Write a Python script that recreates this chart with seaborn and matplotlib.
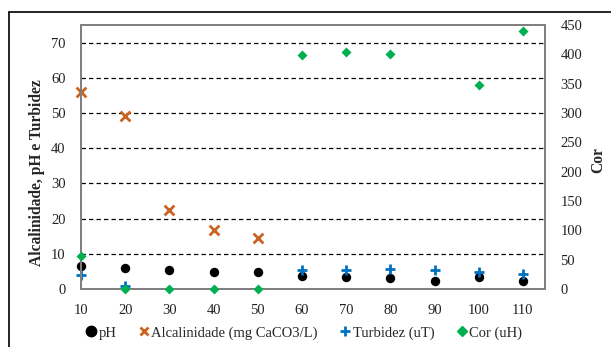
import numpy as np
import pandas as pd
import matplotlib
matplotlib.use("Agg")
import matplotlib.pyplot as plt
from matplotlib.lines import Line2D
import seaborn as sns

# data
categories = ["10", "20", "30", "40", "50", "60", "70", "80", "90", "100", "110"]
ph = [6.4, 6.0, 5.3, 4.8, 4.8, 3.6, 3.3, 3.1, 2.2, 3.3, 2.2]
alcalinidade = [56.0, 49.1, 22.5, 16.8, 14.6, np.nan, np.nan, np.nan, np.nan, np.nan, np.nan]
turbidez = [4.1, 0.9, np.nan, np.nan, np.nan, 5.5, 5.3, 5.7, 5.3, 4.7, 4.4]
cor = [57, 0, 0, 0, 0, 399, 404, 401, np.nan, 348, 439]

left_ticks = [0, 10, 20, 30, 40, 50, 60, 70]
right_ticks = [0, 50, 100, 150, 200, 250, 300, 350, 400, 450]

df = pd.DataFrame({"x": categories, "pH": ph, "Alc": alcalinidade,
                   "Turb": turbidez, "Cor": cor})

sns.set_style("white")
plt.rcParams["font.family"] = ["Liberation Serif", "DejaVu Serif"]
plt.rcParams["font.size"] = 10.5

fig = plt.figure(figsize=(6.11, 3.47), dpi=100)
ax = fig.add_axes([81 / 611, 1 - 289 / 347, (545 - 81) / 611, (289 - 25) / 347])
ax2 = ax.twinx()

c_ph = "black"
c_alc = "#CC6220"
c_turb = "#0070C0"
c_cor = "#00B050"

sns.scatterplot(data=df, x="x", y="pH", ax=ax, color=c_ph, marker="o", s=46,
                edgecolor=c_ph, linewidth=0, clip_on=False, zorder=3)
sns.scatterplot(data=df, x="x", y="Alc", ax=ax, color=c_alc, marker="x", s=50,
                linewidth=2, clip_on=False, zorder=3)
sns.scatterplot(data=df, x="x", y="Turb", ax=ax, color=c_turb, marker="+", s=60,
                linewidth=2, clip_on=False, zorder=4)
sns.scatterplot(data=df, x="x", y="Cor", ax=ax2, color=c_cor, marker="D", s=26,
                edgecolor=c_cor, linewidth=0, clip_on=False, zorder=3)

ax.set_xlim(0, len(categories) - 0.5)
ax.set_ylim(0, 75)
ax2.set_ylim(0, 450)
ax.set_yticks(left_ticks)
ax2.set_yticks(right_ticks)
ax.set_xticks(range(len(categories)))
ax.set_xticklabels(categories)

for t in left_ticks[1:]:
    ax.axhline(t, color="black", linestyle=(0, (3.5, 2.5)), linewidth=0.9, zorder=1)

ax.set_xlabel("")
ax.set_ylabel("Alcalinidade, pH e Turbidez", fontweight="bold", fontsize=11.2, va="center")
ax.yaxis.set_label_coords(-0.095, 0.44)
ax2.set_ylabel("Cor", fontweight="bold", rotation=90, fontsize=11.2, va="center")
ax2.yaxis.set_label_coords(1.114, 0.49)

for a in (ax, ax2):
    for s in a.spines.values():
        s.set_color("#808080")
        s.set_linewidth(1.4)
    a.tick_params(length=0, pad=11, labelsize=10.5, colors="#222222")

handles = [
    Line2D([], [], linestyle="none", marker="o", color=c_ph, markersize=7.5),
    Line2D([], [], linestyle="none", marker="x", color=c_alc, markersize=6, markeredgewidth=2),
    Line2D([], [], linestyle="none", marker="+", color=c_turb, markersize=7, markeredgewidth=2),
    Line2D([], [], linestyle="none", marker="D", color=c_cor, markersize=5),
]
labels = ["pH", "Alcalinidade (mg CaCO3/L)", "Turbidez (uT)", "Cor (uH)"]
fig.legend(handles, labels, loc="center", bbox_to_anchor=(0.496, 1 - 333 / 347),
           ncol=4, frameon=False, handletextpad=0.0, columnspacing=1.4,
           handlelength=1.0, fontsize=10.5)

# outer frame (top and left edges visible)
fig.add_artist(Line2D([9 / 611, 9 / 611], [0, 1 - 12 / 347], color="black", linewidth=1.2,
                      transform=fig.transFigure))
fig.add_artist(Line2D([9 / 611, 1], [1 - 12 / 347, 1 - 12 / 347], color="black", linewidth=1.2,
                      transform=fig.transFigure))

fig.savefig("out.png", dpi=100)
